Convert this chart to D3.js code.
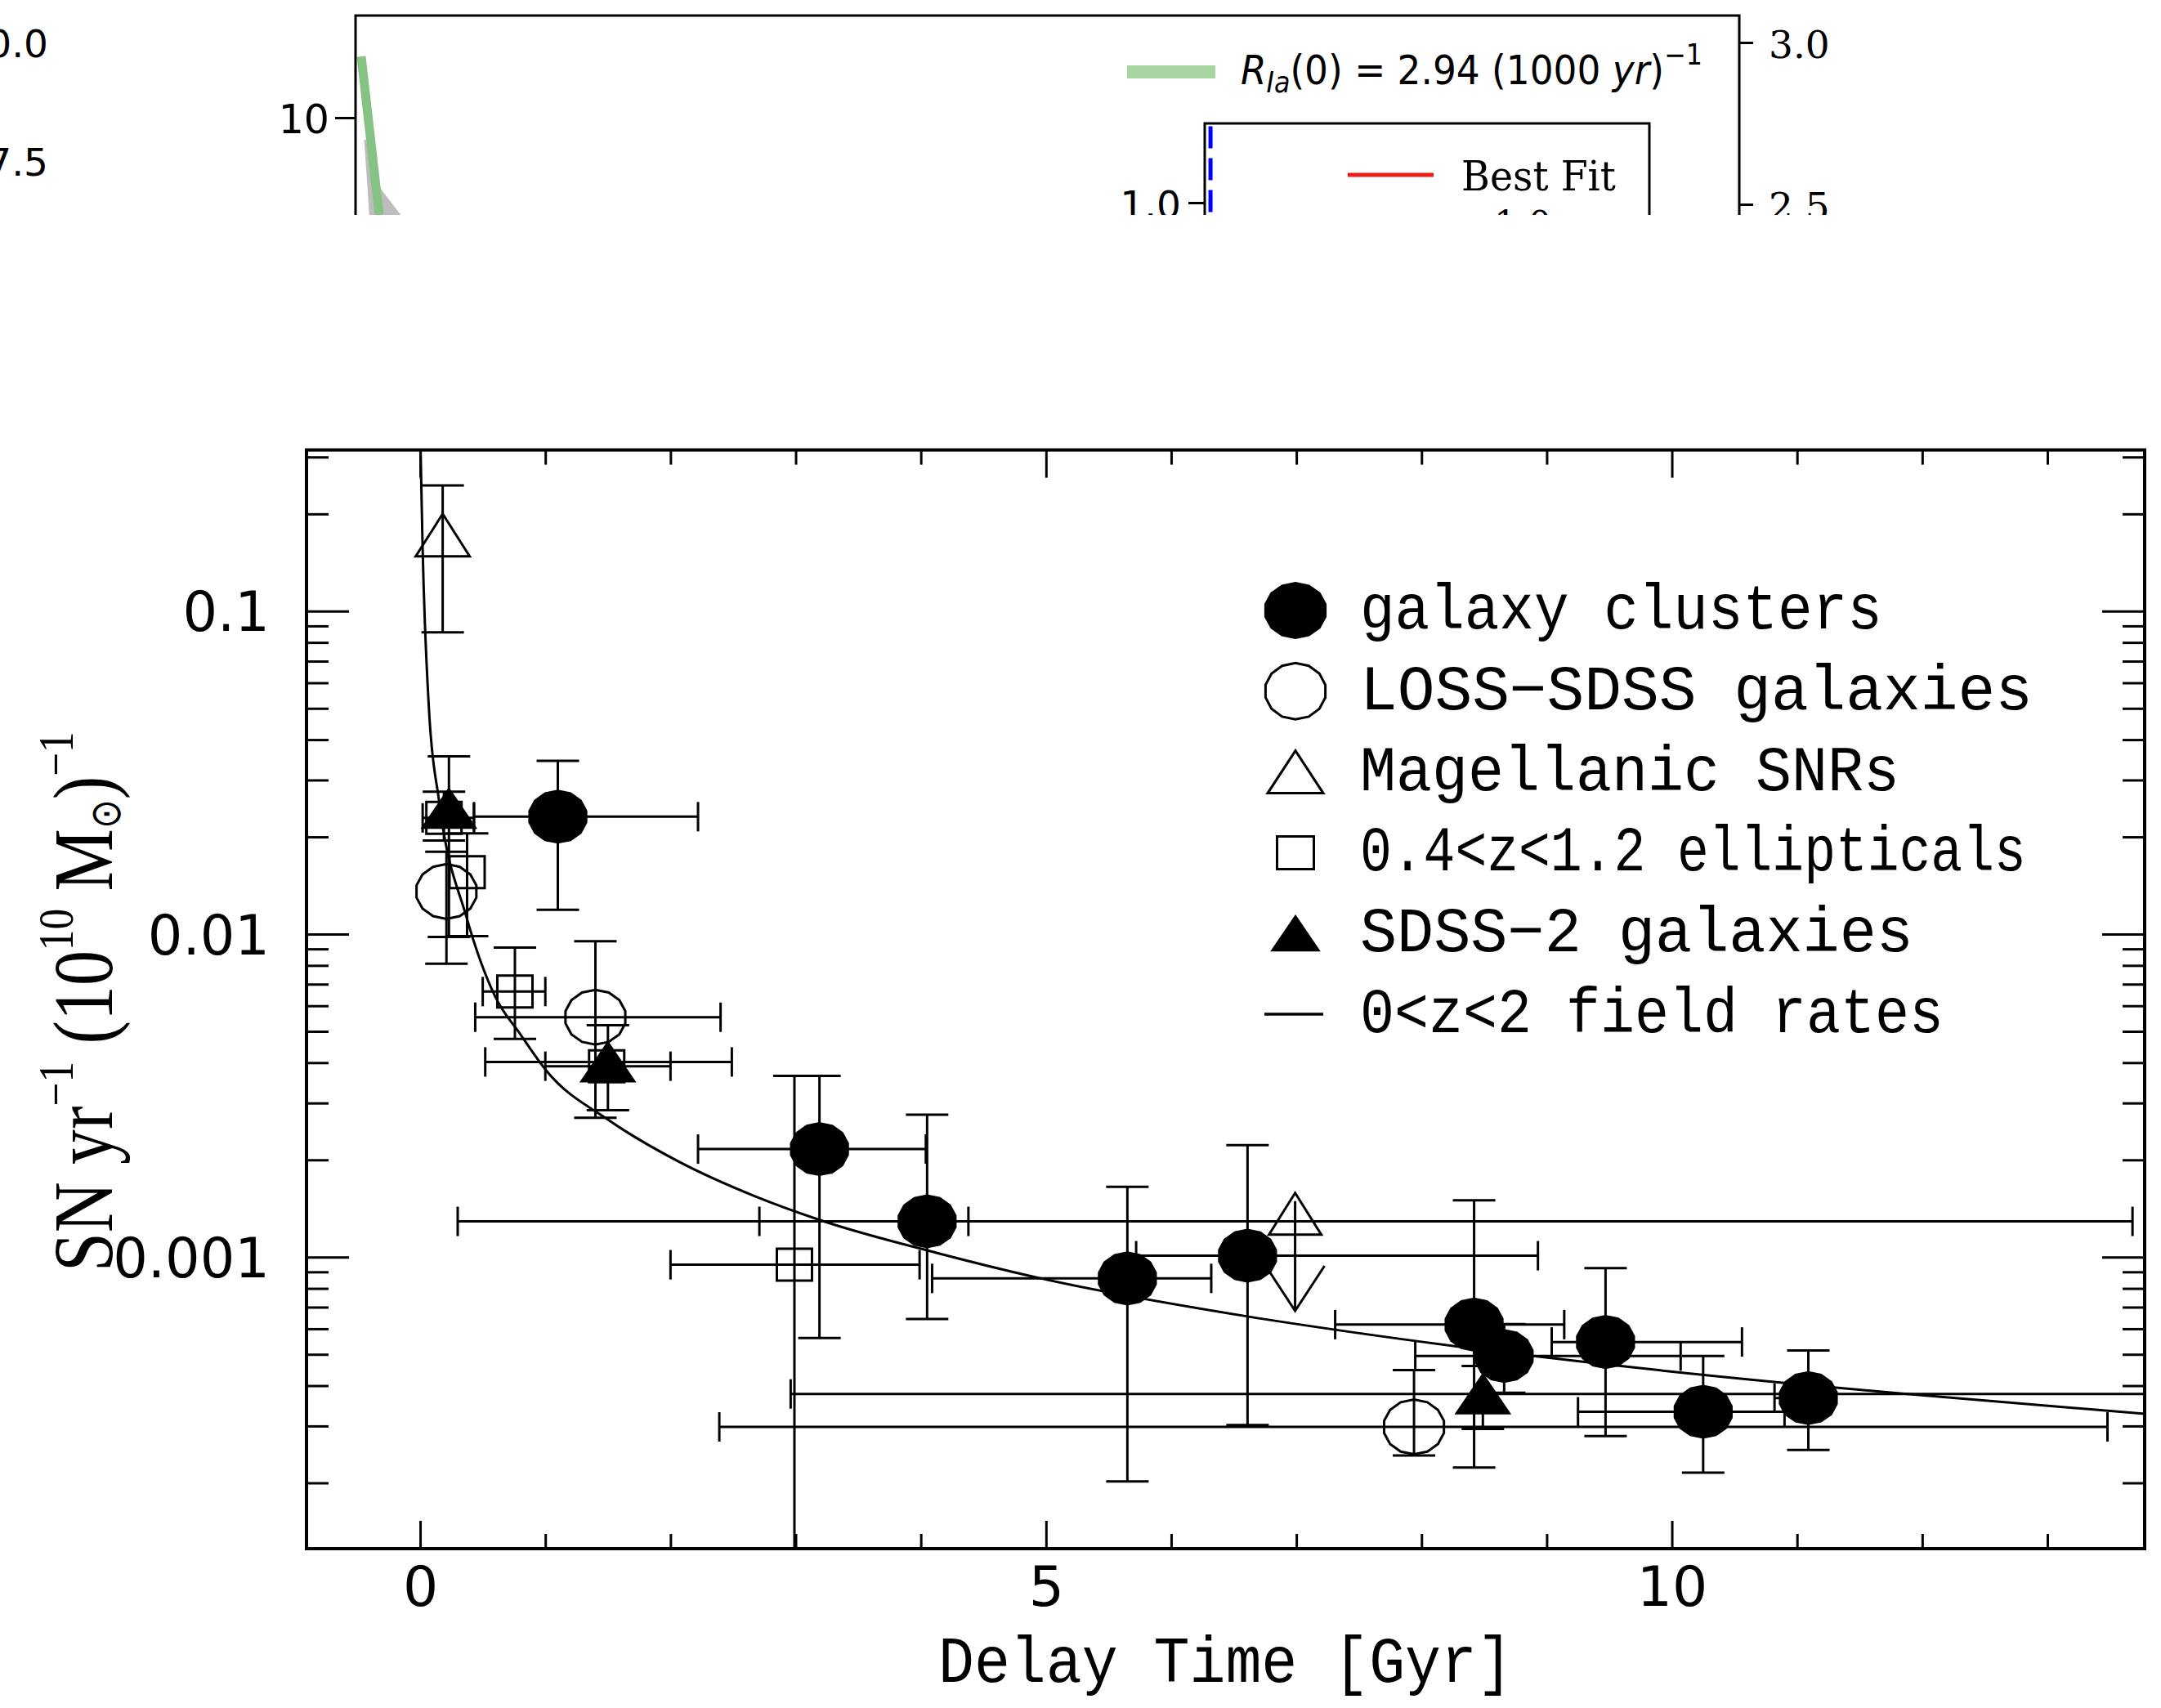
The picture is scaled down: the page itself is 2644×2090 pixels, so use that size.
<!DOCTYPE html>
<html>
<head>
<meta charset="utf-8">
<script src="https://cdn.jsdelivr.net/npm/d3@7"></script>
<style>
  html, body { margin: 0; padding: 0; background: #fff; }
  svg { display: block; }
</style>
</head>
<body>
<div id="chart"></div>
<script>
// main panel: delay time [Gyr] vs SN yr^-1 (1e10 Msun)^-1
const galaxyClusters = [
  {x: 1.10, y: 0.0231, xlo: 0.43, xhi: 2.22, ylo: 0.0119, yhi: 0.0344},
  {x: 3.19, y: 0.00216, xlo: 2.22, xhi: 4.04, ylo: 0.000562, yhi: 0.00364},
  {x: 4.05, y: 0.00129, xlo: 2.71, xhi: 4.38, ylo: 0.000643, yhi: 0.00276},
  {x: 5.65, y: 0.000859, xlo: 4.09, xhi: 6.32, ylo: 0.000202, yhi: 0.00165},
  {x: 6.61, y: 0.00101, xlo: 5.72, xhi: 8.93, ylo: 0.000302, yhi: 0.00222},
  {x: 8.42, y: 0.000618, xlo: 7.31, xhi: 9.14, ylo: 0.000223, yhi: 0.00150},
  {x: 8.66, y: 0.000494, xlo: 7.95, xhi: 10.07, ylo: 0.00038, yhi: 0.00062},
  {x: 9.47, y: 0.000546, xlo: 9.04, xhi: 10.56, ylo: 0.000279, yhi: 0.000924},
  {x: 10.25, y: 0.000332, xlo: 9.25, xhi: 10.90, ylo: 0.000215, yhi: 0.000494},
  {x: 11.09, y: 0.000366, xlo: 10.82, xhi: 11.20, ylo: 0.000253, yhi: 0.000514}
];
const clusterWideBars = [
  {y: 0.00129, xlo: 0.30, xhi: 13.68}
];
const lossSdss = [
  {x: 0.21, y: 0.01355, ylo: 0.0081, yhi: 0.018},
  {x: 1.40, y: 0.00553, xlo: 0.44, xhi: 2.40, ylo: 0.0027, yhi: 0.0095},
  {x: 7.94, y: 0.000298, xlo: 2.39, xhi: 13.48, ylo: 0.000243, yhi: 0.000447}
];
const magellanic = [
  {x: 0.18, y: 0.172, ylo: 0.086, yhi: 0.245}
];
const magellanicRange = [
  {x: 6.99, ylo: 0.000682, yhi: 0.00158}
];
const ellipticals = [
  {x: 0.19, y: 0.0229, xlo: 0.02, xhi: 0.43, ylo: 0.0195, yhi: 0.0276},
  {x: 0.375, y: 0.01556, ylo: 0.00986, yhi: 0.0205},
  {x: 0.757, y: 0.00664, xlo: 0.50, xhi: 1.00, ylo: 0.00474, yhi: 0.00908},
  {x: 1.49, y: 0.0039, xlo: 1.00, xhi: 2.00},
  {x: 2.99, y: 0.000947, xlo: 2.00, xhi: 3.99, ylo: 0.00001, yhi: 0.00364}
];
const sdss2 = [
  {x: 0.23, y: 0.0245, ylo: 0.0098, yhi: 0.0355},
  {x: 1.50, y: 0.00402, xlo: 0.52, xhi: 2.49, ylo: 0.00285, yhi: 0.00522},
  {x: 8.49, y: 0.000377, xlo: 2.96, xhi: 16, ylo: 0.000294, yhi: 0.00046}
];
const fieldRate = [
  [0.003, 0.32], [0.02, 0.155], [0.07, 0.05], [0.15, 0.026], [0.37, 0.0113],
  [0.6, 0.0064], [0.8, 0.0049], [1.01, 0.00377], [1.51, 0.00265], [2.05, 0.00199],
  [2.68, 0.00154], [3.2, 0.0013], [4.13, 0.00103], [4.92, 0.000866], [6.6, 0.000656],
  [7.4, 0.000589], [9.05, 0.000486], [10.9, 0.000408], [11.84, 0.000378], [13.78, 0.000327]
];
const legendLabels = ['galaxy clusters', 'LOSS\u2212SDSS galaxies', 'Magellanic SNRs',
  '0.4<z<1.2 ellipticals', 'SDSS\u22122 galaxies', '0<z<2 field rates'];
const xMajorTicks = [0, 5, 10];
const xMinorTicks = [1, 2, 3, 4, 6, 7, 8, 9, 11, 12, 13];
const yMajorTicks = [0.001, 0.01, 0.1];
const yTickLabels = ['0.001', '0.01', '0.1'];

// cropped strip of the neighbouring figure at the top
const stripOuterTicks = [10.0, 7.5];
const stripLeftTicks = [10];
const stripRightTicks = [3.0, 2.5];
const stripInsetTicks = [1.0];
const stripGreen = [[0.0041, 2.957], [0.0171, 2.467]];
const stripGrey = [[2.70, 0.0062, 0.0074], [2.56, 0.0085, 0.016], [2.46, 0.0100, 0.034]];
const stripBlue = [[0.013, 1.15], [0.013, 0.80]];

const W = 2644, H = 2090;
const M = {left: 375, right: 2624, top: 550.6, bottom: 1895};

const svg = d3.select('#chart').append('svg')
  .attr('width', W).attr('height', H)
  .attr('viewBox', `0 0 ${W} ${H}`);
svg.append('rect').attr('width', W).attr('height', H).attr('fill', '#fff');

function fitX(sel, targetW, ax) {
  sel.each(function() {
    const w = this.getBBox().width;
    if (!w) return;
    const k = targetW / w;
    d3.select(this).attr('transform', `translate(${ax},0) scale(${k},1) translate(${-ax},0)`);
  });
}

// ---------- top strip ----------
const defs = svg.append('defs');
defs.append('clipPath').attr('id', 'stripClip')
  .append('rect').attr('x', 0).attr('y', 0).attr('width', W).attr('height', 263);
defs.append('clipPath').attr('id', 'plotClip')
  .append('rect').attr('x', M.left).attr('y', M.top)
  .attr('width', M.right - M.left).attr('height', M.bottom - M.top);

const strip = svg.append('g').attr('clip-path', 'url(#stripClip)');
const sx = d3.scaleLinear().domain([0, 1]).range([435, 2128]);
const syRight = d3.scaleLinear().domain([3.0, 2.5]).range([52, 250]);
const syLeft = d3.scaleLog().domain([10, 1]).range([144, 540]);
const syOuter = d3.scaleLinear().domain([10, 7.5]).range([54, 199]);
const insetX = d3.scaleLinear().domain([0, 1]).range([1474, 2018]);
const insetY = d3.scaleLinear().domain([1.0, 0.5]).range([248, 560]);

strip.append('path')
  .datum(stripGrey)
  .attr('fill', '#bdbdbd')
  .attr('d', d3.area().y(d => syRight(d[0])).x0(d => sx(d[1])).x1(d => sx(d[2])));
strip.append('path')
  .datum(stripGreen)
  .attr('fill', 'none').attr('stroke', '#86c283').attr('stroke-width', 11)
  .attr('d', d3.line().x(d => sx(d[0])).y(d => syRight(d[1])));

strip.append('g').selectAll('text').data(stripOuterTicks).join('text')
  .attr('x', 59).attr('y', d => syOuter(d) + 16)
  .attr('text-anchor', 'end').attr('font-family', 'DejaVu Sans').attr('font-size', 47)
  .text(d3.format('.1f'));

strip.append('g').attr('transform', 'translate(435,0)')
  .call(d3.axisLeft(syLeft).tickValues(stripLeftTicks).tickSize(25).tickFormat(d3.format('d')))
  .call(g => g.select('.domain').remove())
  .call(g => g.selectAll('.tick line').attr('stroke-width', 3))
  .call(g => g.selectAll('.tick text').attr('x', -32).attr('dy', 0).attr('y', 18)
    .attr('font-family', 'DejaVu Sans').attr('font-size', 49));

strip.append('g').attr('transform', 'translate(2128,0)')
  .call(d3.axisRight(syRight).tickValues(stripRightTicks).tickSize(17).tickFormat(d3.format('.1f')))
  .call(g => g.select('.domain').remove())
  .call(g => g.selectAll('.tick line').attr('stroke-width', 3))
  .call(g => g.selectAll('.tick text').attr('x', 36).attr('dy', 0).attr('y', 18)
    .attr('font-family', 'DejaVu Serif').attr('font-size', 47));

strip.append('g').attr('transform', 'translate(1474,0)')
  .call(d3.axisLeft(insetY).tickValues(stripInsetTicks).tickSize(20).tickFormat(d3.format('.1f')))
  .call(g => g.select('.domain').remove())
  .call(g => g.selectAll('.tick line').attr('stroke-width', 3))
  .call(g => g.selectAll('.tick text').attr('x', -29).attr('dy', 0).attr('y', 18)
    .attr('font-family', 'DejaVu Sans').attr('font-size', 47));

strip.append('path')
  .datum(stripBlue)
  .attr('fill', 'none').attr('stroke', '#0000ff').attr('stroke-width', 5)
  .attr('stroke-dasharray', '27 12')
  .attr('d', d3.line().x(d => insetX(d[0])).y(d => insetY(d[1])));

// strip frames
strip.append('path').attr('fill', 'none').attr('stroke', '#000').attr('stroke-width', 3)
  .attr('d', `M435,300V19H2128V300`);
strip.append('path').attr('fill', 'none').attr('stroke', '#000').attr('stroke-width', 3)
  .attr('d', `M1474,300V151H2018V300`);

// strip legend entries
strip.append('rect').attr('x', 1379).attr('y', 80).attr('width', 108).attr('height', 16)
  .attr('fill', '#a8d5a2');
const rText = strip.append('text').attr('x', 1518).attr('y', 103)
  .attr('font-family', 'DejaVu Sans').attr('font-size', 50);
rText.append('tspan').attr('font-style', 'italic').text('R');
rText.append('tspan').attr('font-style', 'italic').attr('font-size', 35).attr('dy', 10).text('Ia');
rText.append('tspan').attr('dy', -10).text('(0) = 2.94 (1000 ');
rText.append('tspan').attr('font-style', 'italic').text('yr');
rText.append('tspan').text(')');
rText.append('tspan').attr('font-size', 35).attr('dy', -24).text('\u22121');
fitX(rText, 565, 1518);

strip.append('line').attr('x1', 1649).attr('x2', 1754).attr('y1', 214).attr('y2', 214)
  .attr('stroke', '#ee1b1b').attr('stroke-width', 5);
const bestFit = strip.append('text').attr('x', 1788).attr('y', 233)
  .attr('font-family', 'DejaVu Serif').attr('font-size', 50).text('Best Fit');
fitX(bestFit, 189, 1788);
strip.append('text').attr('x', 1863).attr('y', 290).attr('text-anchor', 'middle')
  .attr('font-family', 'DejaVu Serif').attr('font-size', 44).text('1.0');

// ---------- main panel ----------
const x = d3.scaleLinear().domain([-0.908, 13.777]).range([M.left, M.right]);
const y = d3.scaleLog().domain([1.2513e-4, 0.3155]).range([M.bottom, M.top]);

const yMinorTicks = [];
[1e-4, 1e-3, 1e-2, 1e-1].forEach(dec => {
  d3.range(2, 10).forEach(m => {
    const v = m * dec;
    if (v > y.domain()[0] && v < y.domain()[1]) yMinorTicks.push(v);
  });
});

function tickStyle(g) {
  g.select('.domain').remove();
  g.selectAll('.tick line').attr('stroke', '#000').attr('stroke-width', 3);
}

svg.append('g').attr('transform', `translate(0,${M.bottom})`)
  .call(d3.axisBottom(x).tickValues(xMajorTicks).tickSize(-34).tickFormat(d3.format('d')))
  .call(tickStyle)
  .call(g => g.selectAll('.tick text').attr('y', 70).attr('dy', 0)
    .attr('font-family', 'DejaVu Sans').attr('font-size', 68).attr('fill', '#000'));
svg.append('g').attr('transform', `translate(0,${M.bottom})`)
  .call(d3.axisBottom(x).tickValues(xMinorTicks).tickSize(-18).tickFormat(''))
  .call(tickStyle);
svg.append('g').attr('transform', `translate(0,${M.top})`)
  .call(d3.axisTop(x).tickValues(xMajorTicks).tickSize(-34).tickFormat(''))
  .call(tickStyle);
svg.append('g').attr('transform', `translate(0,${M.top})`)
  .call(d3.axisTop(x).tickValues(xMinorTicks).tickSize(-18).tickFormat(''))
  .call(tickStyle);

svg.append('g').attr('transform', `translate(${M.left},0)`)
  .call(d3.axisLeft(y).tickValues(yMajorTicks).tickSize(-52)
    .tickFormat(d => yTickLabels[yMajorTicks.indexOf(d)]))
  .call(tickStyle)
  .call(g => g.selectAll('.tick text').attr('x', -45).attr('dy', 0).attr('y', 24)
    .attr('text-anchor', 'end').attr('font-family', 'DejaVu Sans').attr('font-size', 67)
    .attr('fill', '#000'));
svg.append('g').attr('transform', `translate(${M.left},0)`)
  .call(d3.axisLeft(y).tickValues(yMinorTicks).tickSize(-27).tickFormat(''))
  .call(tickStyle);
svg.append('g').attr('transform', `translate(${M.right},0)`)
  .call(d3.axisRight(y).tickValues(yMajorTicks).tickSize(-52).tickFormat(''))
  .call(tickStyle);
svg.append('g').attr('transform', `translate(${M.right},0)`)
  .call(d3.axisRight(y).tickValues(yMinorTicks).tickSize(-27).tickFormat(''))
  .call(tickStyle);

const plot = svg.append('g').attr('clip-path', 'url(#plotClip)');

// field rate curve
plot.append('path')
  .datum(fieldRate)
  .attr('fill', 'none').attr('stroke', '#000').attr('stroke-width', 3)
  .attr('d', d3.line().x(d => x(d[0])).y(d => y(d[1])).curve(d3.curveMonotoneX));

// error bars
const capW = 26, capH = 18;
function barSegments(d) {
  const segs = [];
  if (d.xlo != null) {
    const py = y(d.y), a = x(d.xlo), b = x(d.xhi);
    segs.push([a, py, b, py], [a, py - capH, a, py + capH], [b, py - capH, b, py + capH]);
  }
  if (d.ylo != null) {
    const px = x(d.x), a = y(d.ylo), b = y(d.yhi);
    segs.push([px, a, px, b], [px - capW, a, px + capW, a], [px - capW, b, px + capW, b]);
  }
  return segs;
}
const allPoints = [].concat(galaxyClusters, clusterWideBars, lossSdss, magellanic, ellipticals, sdss2);
plot.append('g')
  .attr('stroke', '#000').attr('stroke-width', 3)
  .selectAll('line')
  .data(allPoints.flatMap(barSegments))
  .join('line')
  .attr('x1', d => d[0]).attr('y1', d => d[1])
  .attr('x2', d => d[2]).attr('y2', d => d[3]);

// marker shapes (pixel units, centred)
const poly = pts => 'M' + pts.map(p => p.map(v => v.toFixed(1)).join(',')).join('L') + 'Z';
const roundPath = (rx, ry) => poly(d3.range(14).map(i => {
  const a = 2 * Math.PI * i / 14 + Math.PI / 14;
  return [rx * Math.cos(a), ry * Math.sin(a)];
}));
const triPath = (hw, h) => poly([[0, -h / 2], [hw, h / 2], [-hw, h / 2]]);
const squarePath = (w, h) => poly([[-w / 2, -h / 2], [w / 2, -h / 2], [w / 2, h / 2], [-w / 2, h / 2]]);

const series = [
  {data: galaxyClusters, shape: roundPath(35.5, 31.5), legendShape: roundPath(37.5, 33.5), fill: '#000'},
  {data: lossSdss, shape: roundPath(37.5, 33.5), legendShape: roundPath(37.5, 34.5), fill: 'none'},
  {data: magellanic, shape: triPath(33, 52), legendShape: triPath(34, 52), fill: 'none'},
  {data: ellipticals, shape: squarePath(43, 39), legendShape: squarePath(45, 40), fill: 'none'},
  {data: sdss2, shape: triPath(32, 47), legendShape: triPath(28, 41), fill: '#000'}
];

series.forEach(s => {
  plot.append('g').selectAll('path')
    .data(s.data)
    .join('path')
    .attr('transform', d => `translate(${x(d.x)},${y(d.y)})`)
    .attr('d', s.shape)
    .attr('fill', s.fill)
    .attr('stroke', '#000').attr('stroke-width', 3)
    .attr('stroke-linejoin', 'miter');
});

// Magellanic range with double arrow
const rangeG = plot.append('g').attr('fill', 'none').attr('stroke', '#000').attr('stroke-width', 3);
magellanicRange.forEach(d => {
  const px = x(d.x), top = y(d.yhi), bot = y(d.ylo);
  rangeG.append('line').attr('x1', px).attr('x2', px).attr('y1', top + 10).attr('y2', bot);
  rangeG.append('path').attr('d', poly([[px, top], [px + 32, top + 51], [px - 32, top + 51]]));
  rangeG.append('path').attr('d', `M${px - 36},${bot - 55}L${px},${bot}L${px + 36},${bot - 55}`);
});

// frame
svg.append('rect')
  .attr('x', M.left).attr('y', M.top)
  .attr('width', M.right - M.left).attr('height', M.bottom - M.top)
  .attr('fill', 'none').attr('stroke', '#000').attr('stroke-width', 4);

// legend
const legX = 1585, legY0 = 747, legDy = 98.8, legTextX = 1664;
const legendEnds = [2303, 2487, 2324, 2479, 2341, 2378];
const legend = svg.append('g');
series.forEach((s, i) => {
  legend.append('path')
    .attr('transform', `translate(${legX},${legY0 + i * legDy})`)
    .attr('d', s.legendShape)
    .attr('fill', s.fill).attr('stroke', '#000').attr('stroke-width', 3);
});
legend.append('line')
  .attr('x1', legX - 38).attr('x2', legX + 34)
  .attr('y1', legY0 + 5 * legDy).attr('y2', legY0 + 5 * legDy)
  .attr('stroke', '#000').attr('stroke-width', 3.5);
legend.selectAll('text')
  .data(legendLabels)
  .join('text')
  .attr('x', legTextX)
  .attr('y', (d, i) => legY0 + i * legDy + 22)
  .attr('font-family', 'Liberation Mono').attr('font-size', 78)
  .attr('fill', '#000')
  .text(d => d)
  .each(function(d, i) { fitX(d3.select(this), legendEnds[i] - legTextX, legTextX); });

// axis titles
const xTitle = svg.append('text')
  .attr('x', 1148).attr('y', 2058)
  .attr('font-family', 'Liberation Mono').attr('font-size', 80)
  .text('Delay Time [Gyr]');
fitX(xTitle, 703, 1148);

const yTitleG = svg.append('g').attr('transform', 'translate(137,1556) rotate(-90)');
const yTitle = yTitleG.append('text').attr('x', 0).attr('y', 0)
  .attr('font-family', 'Liberation Serif').attr('font-size', 104);
yTitle.append('tspan').text('SN yr');
yTitle.append('tspan').attr('font-size', 62).attr('dy', -48).text('\u22121');
yTitle.append('tspan').attr('dy', 48).text(' (10');
yTitle.append('tspan').attr('font-size', 62).attr('dy', -48).text('10');
yTitle.append('tspan').attr('dy', 48).text(' M');
yTitle.append('tspan').attr('font-size', 52).attr('dy', 10).text('\u2299');
yTitle.append('tspan').attr('dy', -10).text(')');
yTitle.append('tspan').attr('font-size', 62).attr('dy', -48).text('\u22121');
fitX(yTitle, 661, 0);
</script>
</body>
</html>
